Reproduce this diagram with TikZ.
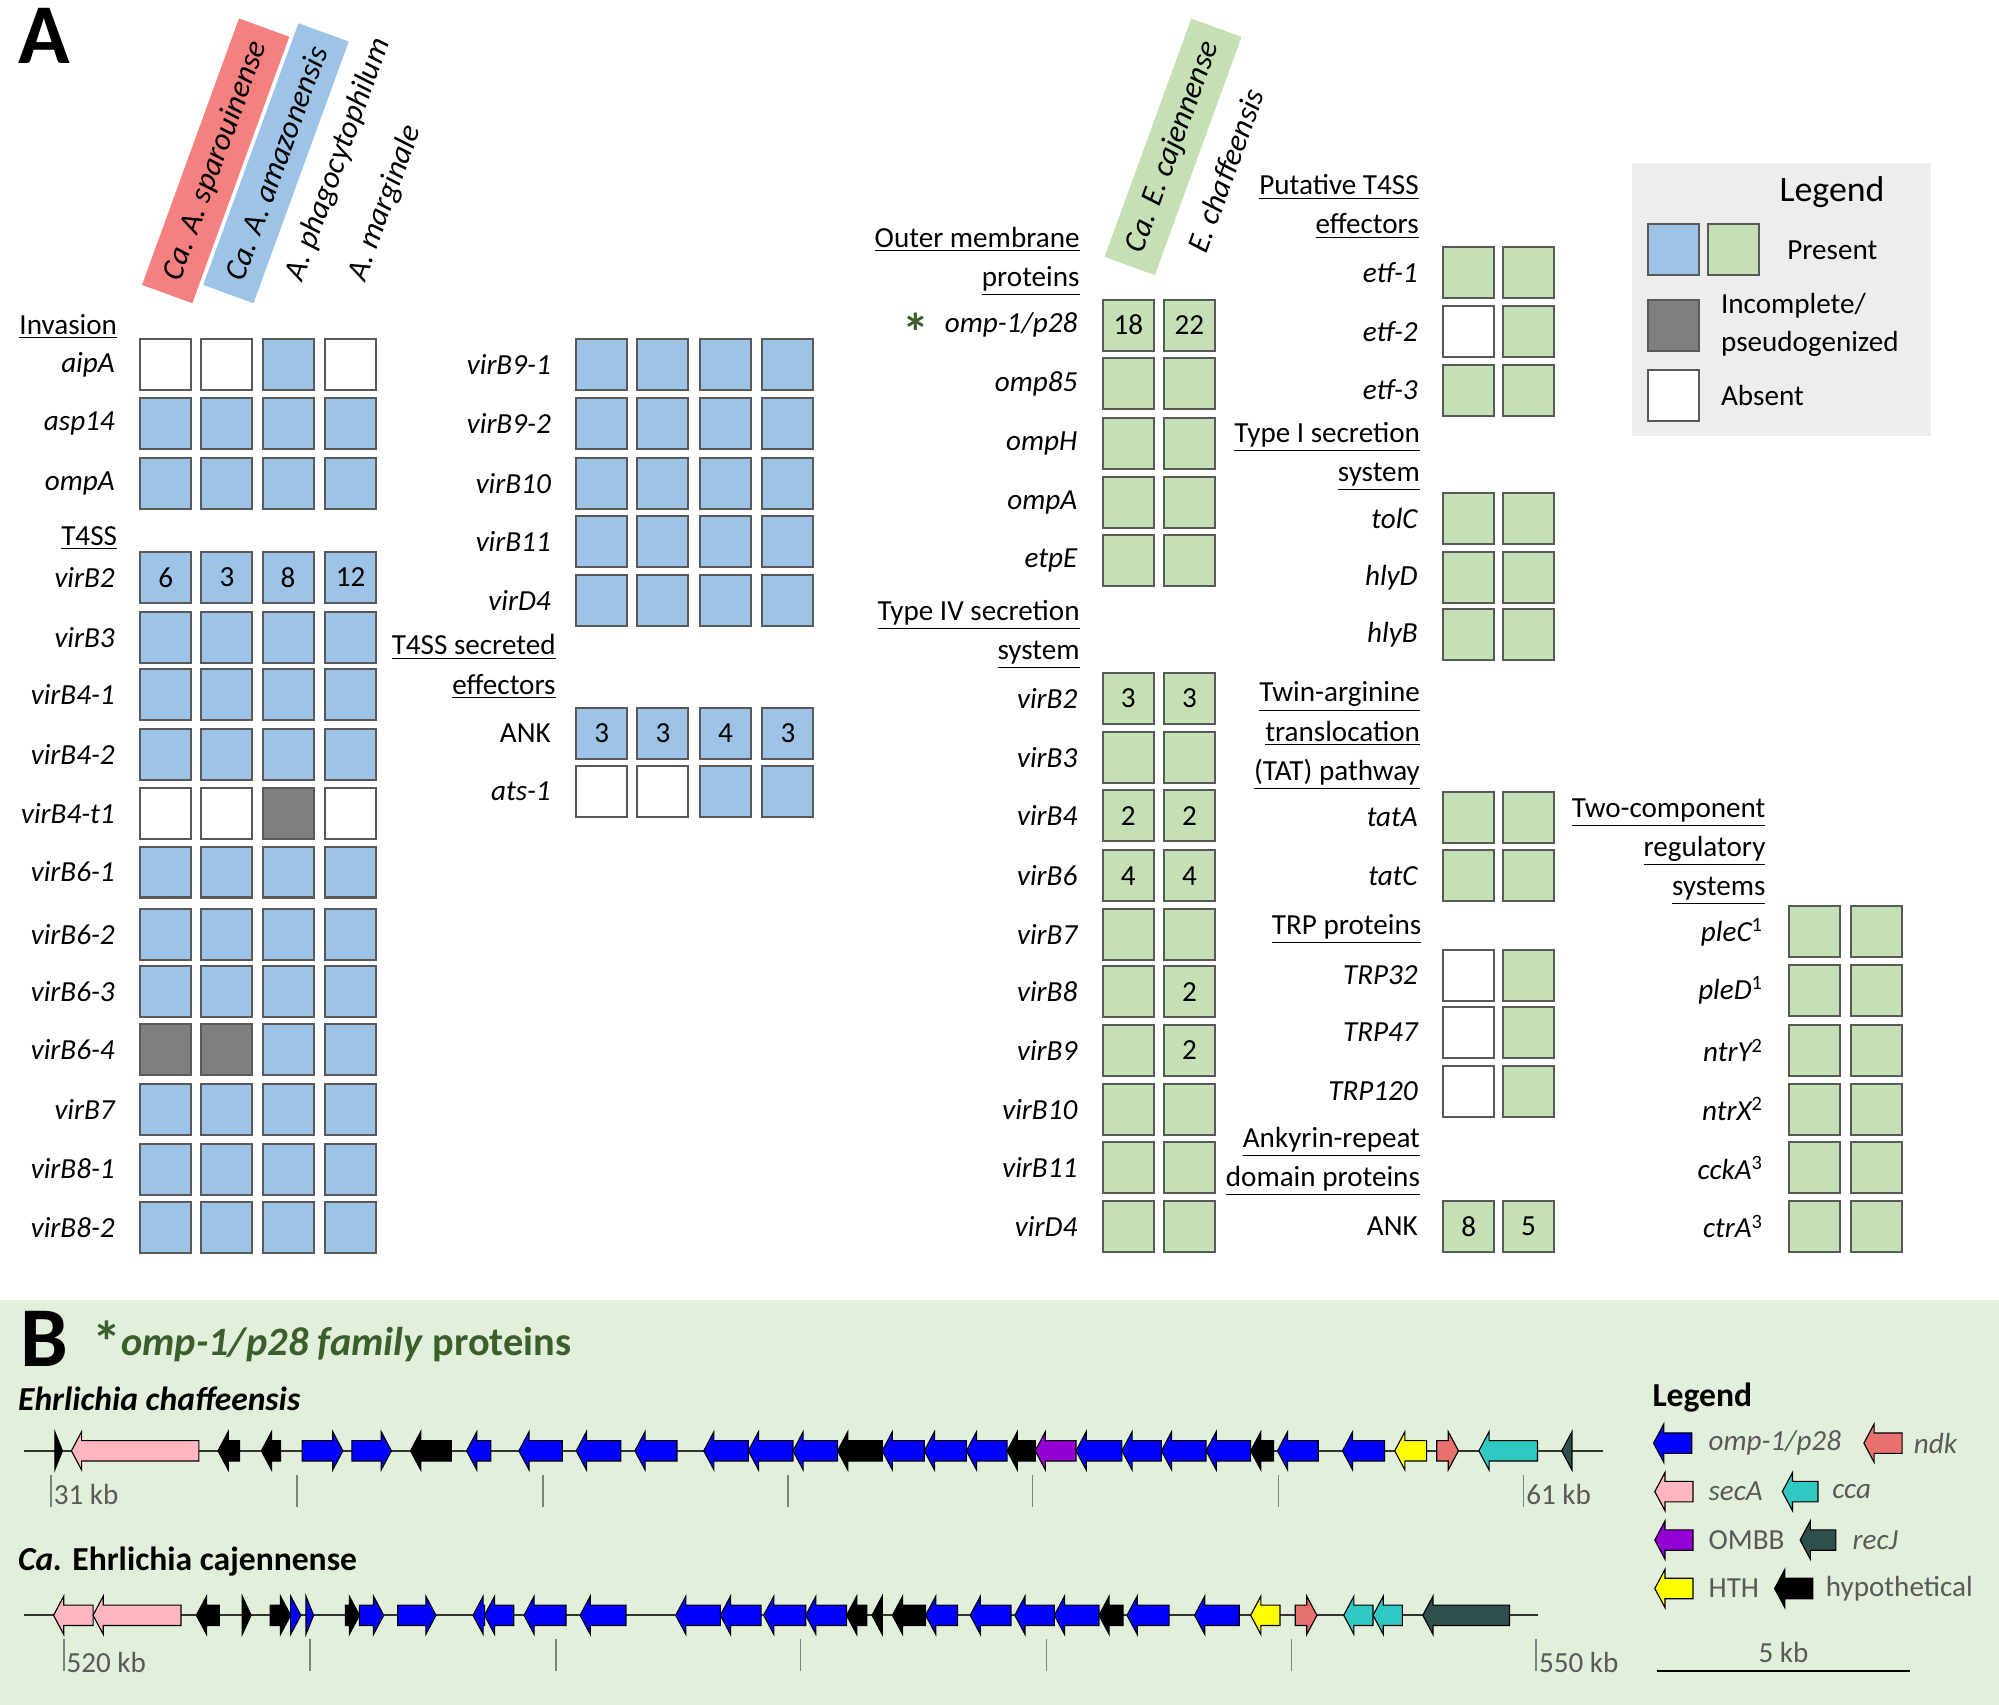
\documentclass[tikz,border=0pt]{standalone}
\usepackage{fontspec}
\setmainfont{Carlito}
\usetikzlibrary{positioning}
\definecolor{cb}{HTML}{9DC3E6}
\definecolor{cg}{HTML}{C5E0B4}
\definecolor{cp}{HTML}{7F7F7F}
\definecolor{cw}{HTML}{FFFFFF}
\definecolor{boxline}{HTML}{595959}
\definecolor{panelB}{HTML}{E2EFDA}
\definecolor{legbg}{HTML}{EDEDED}
\definecolor{darkgreen}{HTML}{3A5F2B}
\definecolor{spred}{HTML}{F4807F}
\definecolor{gompa}{HTML}{0000FF}
\definecolor{gseca}{HTML}{FFB6C1}
\definecolor{gombb}{HTML}{9400D3}
\definecolor{ghth}{HTML}{FFFF00}
\definecolor{gndk}{HTML}{E8716F}
\definecolor{gcca}{HTML}{30C8C3}
\definecolor{grecj}{HTML}{2F4F4F}
\definecolor{ghyp}{HTML}{000000}

\tikzset{
  cell/.style={draw=boxline, line width=0.9pt, minimum size=0.8cm, inner sep=0pt, font=\fontsize{13}{15}\selectfont},
  lab/.style={font=\fontsize{13}{15}\selectfont\itshape, left=0.26cm of #1},
  head/.style={font=\fontsize{13}{17.5}\selectfont, align=right, anchor=east},
  spec/.style={font=\fontsize{14}{16}\selectfont\itshape, rotate=70, anchor=west, inner xsep=7pt, minimum height=0.84cm},
  gene/.style={draw=black, line width=0.5pt},
  tick/.style={draw=gray, line width=0.7pt},
  kb/.style={font=\fontsize{13}{15}\selectfont, text=boxline, anchor=west},
  glab/.style={font=\fontsize{13}{15}\selectfont, text=boxline, anchor=west}
}
\newcommand{\geneL}[4]{\pgfmathsetmacro\gtip{min(#2+8,#3)}%
  \filldraw[gene, fill=#4] (#3,#1-8) -- (\gtip,#1-8) -- (\gtip,#1-15) -- (#2,#1) -- (\gtip,#1+15) -- (\gtip,#1+8) -- (#3,#1+8) -- cycle;}
\newcommand{\geneR}[4]{\pgfmathsetmacro\gtip{max(#3-8,#2)}%
  \filldraw[gene, fill=#4] (#2,#1-8) -- (\gtip,#1-8) -- (\gtip,#1-15) -- (#3,#1) -- (\gtip,#1+15) -- (\gtip,#1+8) -- (#2,#1+8) -- cycle;}

\begin{document}
\begin{tikzpicture}[x=0.02cm, y=-0.02cm]
\useasboundingbox (0,0) rectangle (1568,1337);
\node[font=\fontsize{38}{40}\selectfont\bfseries] (tA) at (35,28) {A};

% species headers
\node[spec, fill=spred] (hsp) at (131,231) {Ca. A. sparouinense};
\node[spec, fill=cb] (ham) at (179,231) {Ca. A. amazonensis};
\node[spec] (hph) at (227,231) {A. phagocytophilum};
\node[spec] (hma) at (276,231) {A. marginale};
\node[spec, fill=cg] (hcj) at (886,209) {Ca. E. cajennense};
\node[spec] (hch) at (934,209) {E. chaffeensis};

% Anaplasma, first block
\node[head] (invasion) at (98,256) {\underline{Invasion}};
\node[head] (t4ss) at (98,422) {\underline{T4SS}};
\foreach \y/\n/\a/\b/\c/\d [count=\i] in {286/aipA/w/w/b/w, 332/asp14/b/b/b/b, 379/ompA/b/b/b/b,
    500/virB3/b/b/b/b, 545/virB4-1/b/b/b/b, 592/virB4-2/b/b/b/b, 638/virB4-t1/w/w/p/w,
    684/virB6-1/b/b/b/b, 733/virB6-2/b/b/b/b, 778/virB6-3/b/b/b/b, 823/virB6-4/p/p/b/b,
    870/virB7/b/b/b/b, 917/virB8-1/b/b/b/b, 963/virB8-2/b/b/b/b}{
  \node[cell, fill=c\a] (a1-\i) at (130,\y) {};
  \node[cell, fill=c\b] (a2-\i) at (178,\y) {};
  \node[cell, fill=c\c] (a3-\i) at (226,\y) {};
  \node[cell, fill=c\d] (a4-\i) at (275,\y) {};
  \node[lab=a1-\i] {\n};
}
\node[cell, fill=cb] (a1-vb2) at (130,453) {6};
\node[cell, fill=cb] (a2-vb2) at (178,453) {3};
\node[cell, fill=cb] (a3-vb2) at (226,453) {8};
\node[cell, fill=cb] (a4-vb2) at (275,453) {12};
\node[lab=a1-vb2] {virB2};

% Anaplasma, second block
\foreach \y/\n [count=\i] in {286/virB9-1, 332/virB9-2, 379/virB10, 425/virB11, 471/virD4}{
  \node[cell, fill=cb] (b1-\i) at (472,\y) {};
  \node[cell, fill=cb] (b2-\i) at (520,\y) {};
  \node[cell, fill=cb] (b3-\i) at (569,\y) {};
  \node[cell, fill=cb] (b4-\i) at (618,\y) {};
  \node[lab=b1-\i] {\n};
}
\node[head] (effA) at (442,523) {\underline{T4SS secreted}\\\underline{effectors}};
\node[cell, fill=cb] (b1-ank) at (472,575) {3};
\node[cell, fill=cb] (b2-ank) at (520,575) {3};
\node[cell, fill=cb] (b3-ank) at (569,575) {4};
\node[cell, fill=cb] (b4-ank) at (618,575) {3};
\node[lab=b1-ank, font=\fontsize{13}{15}\selectfont] {ANK};
\node[cell, fill=cw] (b1-ats) at (472,621) {};
\node[cell, fill=cw] (b2-ats) at (520,621) {};
\node[cell, fill=cb] (b3-ats) at (569,621) {};
\node[cell, fill=cb] (b4-ats) at (618,621) {};
\node[lab=b1-ats] {ats-1};

% Ehrlichia, first block
\node[head] (omp) at (853,205) {\underline{Outer membrane}\\\underline{proteins}};
\node[head] (t4e) at (853,498) {\underline{Type IV secretion}\\\underline{system}};
\node[cell, fill=cg] (e1-omp) at (885,255) {18};
\node[cell, fill=cg] (e2-omp) at (933,255) {22};
\node[lab=e1-omp] (l-omp) {omp-1/p28};
\node[left=0pt of l-omp, text=darkgreen, font=\fontsize{24}{24}\selectfont\bfseries, yshift=-3pt] (ast) {*};
\foreach \y/\n/\ta/\tb [count=\i] in {301/omp85//, 348/ompH//, 394/ompA//, 440/etpE//,
    548/virB2/3/3, 594/virB3//, 640/virB4/2/2, 687/virB6/4/4, 733/virB7//, 778/virB8//2,
    824/virB9//2, 870/virB10//, 916/virB11//, 962/virD4//}{
  \node[cell, fill=cg] (e1-\i) at (885,\y) {\ta};
  \node[cell, fill=cg] (e2-\i) at (933,\y) {\tb};
  \node[lab=e1-\i] {\n};
}

% Ehrlichia, second block
\node[head] (eff) at (1119,162) {\underline{Putative T4SS}\\\underline{effectors}};
\node[head] (t1ss) at (1120,358) {\underline{Type I secretion}\\\underline{system}};
\node[head] (tat) at (1120,577) {\underline{Twin-arginine}\\\underline{translocation}\\\underline{(TAT) pathway}};
\node[head] (trp) at (1121,729) {\underline{TRP proteins}};
\node[head] (ankh) at (1120,911) {\underline{Ankyrin-repeat}\\\underline{domain proteins}};
\foreach \y/\n/\a [count=\i] in {214/etf-1/g, 260/etf-2/w, 306/etf-3/g, 407/tolC/g, 453/hlyD/g,
    498/hlyB/g, 641/tatA/g, 687/tatC/g, 765/TRP32/w, 810/TRP47/w, 856/TRP120/w}{
  \node[cell, fill=c\a] (f1-\i) at (1152,\y) {};
  \node[cell, fill=cg] (f2-\i) at (1199,\y) {};
  \node[lab=f1-\i] {\n};
}
\node[cell, fill=cg] (f1-ank) at (1152,962) {8};
\node[cell, fill=cg] (f2-ank) at (1199,962) {5};
\node[lab=f1-ank, font=\fontsize{13}{15}\selectfont] {ANK};

% two-component systems
\node[head] (tcs) at (1391,668) {\underline{Two-component}\\\underline{regulatory}\\\underline{systems}};
\foreach \y/\n/\s [count=\i] in {731/pleC/1, 777/pleD/1, 824/ntrY/2, 870/ntrX/2, 916/cckA/3, 962/ctrA/3}{
  \node[cell, fill=cg] (h1-\i) at (1423,\y) {};
  \node[cell, fill=cg] (h2-\i) at (1472,\y) {};
  \node[lab=h1-\i] {\n\textsuperscript{\upshape\s}};
}

% legend A
\fill[legbg] (1280,128) rectangle (1515,342);
\node[font=\fontsize{16}{18}\selectfont] (legA) at (1437,151) {Legend};
\node[cell, fill=cb] (lg-b) at (1313,196) {};
\node[cell, fill=cg] (lg-g) at (1360,196) {};
\node[font=\fontsize{13}{15}\selectfont, right=0.3cm of lg-g] (lg-t1) {Present};
\node[cell, fill=cp] (lg-p) at (1313,255) {};
\node[font=\fontsize{13}{17}\selectfont, align=left, right=0.2cm of lg-p] (lg-t2) {Incomplete/\\pseudogenized};
\node[cell, fill=cw] (lg-w) at (1313,310) {};
\node[font=\fontsize{13}{15}\selectfont, right=0.2cm of lg-w] (lg-t3) {Absent};

% panel B
\fill[panelB] (0,1020) rectangle (1568,1337);
\node[font=\fontsize{38}{40}\selectfont\bfseries] (tB) at (35,1050) {B};
\node[anchor=west, text=darkgreen, font=\fontsize{18}{20}\selectfont\bfseries] (titB) at (66,1052)
  {\raisebox{-0.35ex}{\fontsize{26}{26}\selectfont *}\textit{omp-1/p28 family} proteins};
\node[anchor=west, font=\fontsize{15}{17}\selectfont\bfseries\itshape] (gch) at (8,1097) {Ehrlichia chaffeensis};
\node[anchor=west, font=\fontsize{15}{17}\selectfont\bfseries] (gcj) at (8,1225) {\textit{Ca.} Ehrlichia cajennense};

\coordinate (ch-s) at (19,1138);
\coordinate (ch-e) at (1257,1138);
\draw[line width=0.8pt, black!80] (ch-s) -- (ch-e);
\foreach \x in {40,233,426,618,810,1003,1195} \draw[tick] (\x,1157) -- (\x,1182);
\node[kb] (kb31) at (36,1172) {31 kb};
\node[kb] (kb61) at (1191,1172) {61 kb};
\foreach \d/\a/\b/\c in {R/43/49/ghyp, L/56/156/gseca, L/171/188/ghyp, L/205/220/ghyp, R/237/269/gompa,
    R/276/307/gompa, L/322/354/ghyp, L/366/385/gompa, L/407/441/gompa, L/452/487/gompa, L/498/531/gompa,
    L/552/587/gompa, L/587/622/gompa, L/622/657/gompa, L/657/692/ghyp, L/692/725/gompa, L/725/758/gompa,
    L/758/790/gompa, L/790/812/ghyp, L/812/844/gombb, L/844/880/gompa, L/880/911/gompa, L/911/946/gompa,
    L/946/981/gompa, L/981/999/ghyp, L/1002/1034/gompa, L/1053/1086/gompa, L/1094/1119/ghth,
    R/1127/1144/gndk, L/1160/1206/gcca, L/1225/1233/grecj}
  \csname gene\d\endcsname{1138}{\a}{\b}{\c};

\coordinate (cj-s) at (19,1267);
\coordinate (cj-e) at (1206,1267);
\draw[line width=0.8pt, black!80] (cj-s) -- (cj-e);
\foreach \x in {50,243,436,628,821,1013,1205} \draw[tick] (\x,1286) -- (\x,1311);
\node[kb] (kb520) at (46,1304) {520 kb};
\node[kb] (kb550) at (1201,1304) {550 kb};
\foreach \d/\a/\b/\c in {L/42/73/gseca, L/73/142/gseca, L/154/172/ghyp, R/190/197/ghyp, R/212/228/ghyp,
    R/228/236/gompa, R/240/246/gompa, R/271/282/ghyp, R/282/301/gompa, R/312/342/gompa, L/371/380/gompa,
    L/380/403/gompa, L/411/444/gompa, L/455/491/gompa, L/530/565/gompa, L/565/597/gompa, L/599/632/gompa,
    L/632/664/gompa, L/664/680/ghyp, L/684/692/ghyp, L/700/726/ghyp, L/726/751/gompa, L/761/793/gompa,
    L/796/827/gompa, L/827/862/gompa, L/862/881/ghyp, L/884/917/gompa, L/937/972/gompa, L/981/1004/ghth,
    R/1016/1033/gndk, L/1054/1077/gcca, L/1077/1100/gcca, L/1116/1184/grecj}
  \csname gene\d\endcsname{1267}{\a}{\b}{\c};

% legend B
\node[anchor=west, font=\fontsize{15}{17}\selectfont\bfseries] (legB) at (1290,1096) {Legend};
\geneL{1132}{1297}{1327}{gompa} \node[glab] (k1) at (1334,1132) {\textit{omp-1/p28}};
\geneL{1132}{1462}{1492}{gndk}  \node[glab] (k2) at (1495,1132) {\textit{ndk}};
\geneL{1170}{1298}{1328}{gseca} \node[glab] (k3) at (1334,1170) {\textit{secA}};
\geneL{1170}{1398}{1426}{gcca}  \node[glab] (k4) at (1431,1170) {\textit{cca}};
\geneL{1208}{1298}{1328}{gombb} \node[glab] (k5) at (1334,1208) {OMBB};
\geneL{1208}{1412}{1440}{grecj} \node[glab] (k6) at (1447,1208) {\textit{recJ}};
\geneL{1246}{1298}{1328}{ghth}  \node[glab] (k7) at (1334,1246) {HTH};
\geneL{1246}{1392}{1422}{ghyp}  \node[glab] (k8) at (1426,1246) {hypothetical};
\coordinate (sb-l) at (1300,1311);
\coordinate (sb-r) at (1498,1311);
\draw[line width=0.8pt] (sb-l) -- node[above, font=\fontsize{13}{15}\selectfont, text=boxline] (sb-t) {5 kb} (sb-r);
\end{tikzpicture}
\end{document}
